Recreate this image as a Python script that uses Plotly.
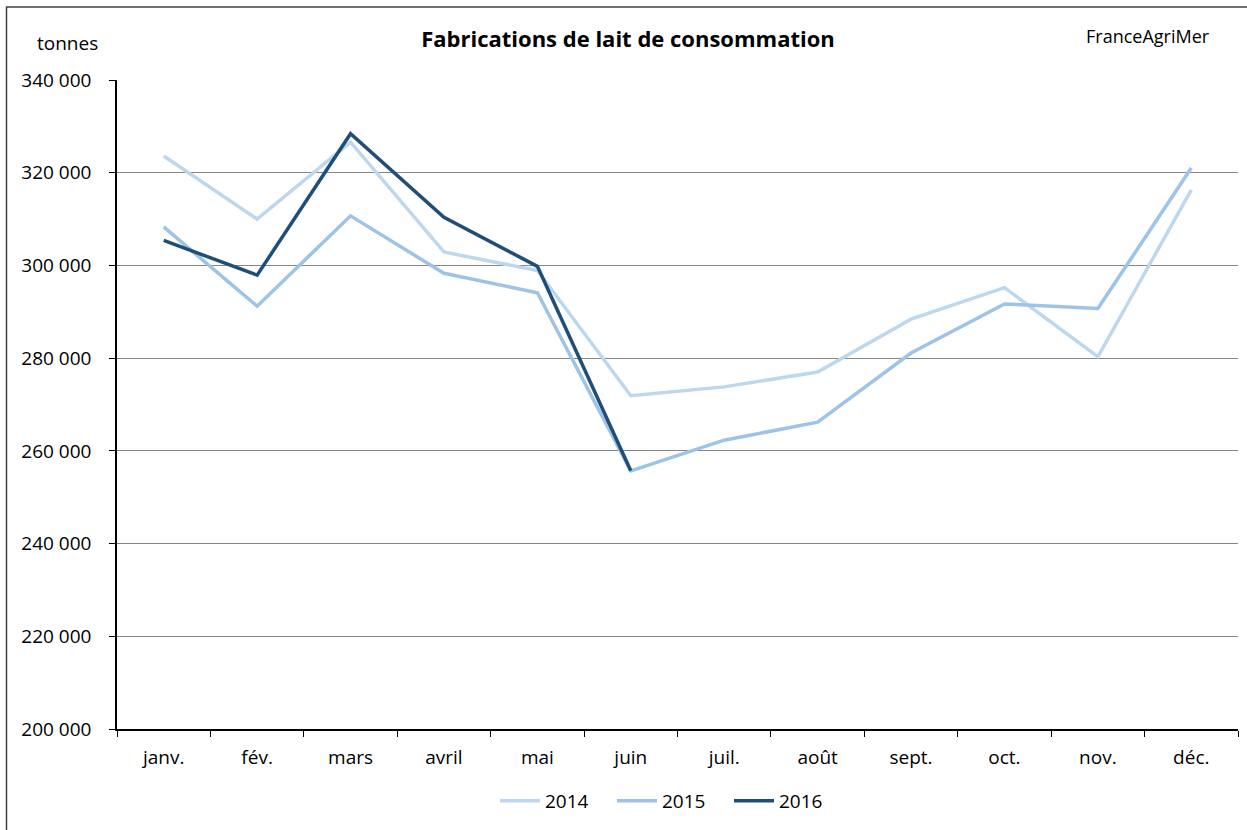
import plotly.graph_objects as go

months = ["janv.", "fév.", "mars", "avril", "mai", "juin", "juil.", "août", "sept.", "oct.", "nov.", "déc."]
y2014 = [323600, 310000, 326600, 302900, 298900, 271900, 273800, 277000, 288400, 295200, 280300, 316300]
y2015 = [308300, 291200, 310700, 298300, 294100, 255700, 262300, 266200, 281100, 291700, 290700, 321000]
y2016 = [305400, 297900, 328400, 310400, 299800, 255700]

series = [("2014", y2014, "#BDD7EE"), ("2015", y2015, "#9DC3E6"), ("2016", y2016, "#1F4E79")]

FONT = "Open Sans"
fig = go.Figure()
for name, vals, col in series:
    fig.add_trace(go.Scatter(x=months[:len(vals)], y=vals, name=name, mode="lines",
                             line=dict(color=col, width=3.5)))

fig.update_layout(
    width=1247, height=830,
    margin=dict(l=117, r=9, t=80, b=101, autoexpand=False),
    paper_bgcolor="white", plot_bgcolor="white",
    separators=", ",
    font=dict(family=FONT, size=19, color="black"),
    showlegend=True,
    legend=dict(orientation="h", x=(495-117)/1121, xanchor="left", y=-(801-729)/649, yanchor="middle",
                font=dict(size=19), itemwidth=40, traceorder="normal",
                entrywidth=62, entrywidthmode="pixels"),
    title=dict(text="<b>Fabrications de lait de consommation</b>", x=628/1247, xanchor="center",
               y=1-39/830, yanchor="middle", font=dict(size=22, family=FONT)),
)
fig.update_xaxes(type="category", range=[-0.5, 11.5], showline=True, linecolor="black", linewidth=1.5,
                 ticks="outside", tickson="boundaries", ticklen=6, tickcolor="black",
                 showgrid=False, tickfont=dict(size=19), ticklabelstandoff=10)
fig.update_yaxes(range=[200000, 340000], dtick=20000, tickformat=",d", showline=True,
                 linecolor="black", linewidth=1.5, ticks="outside", ticklen=6, tickcolor="black",
                 showgrid=True, gridcolor="#868686", gridwidth=1, zeroline=False,
                 tickfont=dict(size=19), ticklabelstandoff=14)

fig.add_annotation(text="tonnes", xref="paper", yref="paper", x=(67-117)/1121, y=1+(80-43)/649,
                   showarrow=False, xanchor="center", yanchor="middle", font=dict(size=19))
fig.add_annotation(text="FranceAgriMer", xref="paper", yref="paper", x=(1148-117)/1121, y=1+(80-36)/649,
                   showarrow=False, xanchor="center", yanchor="middle", font=dict(size=18))
fig.add_shape(type="rect", xref="paper", yref="paper",
              x0=(6.5-117)/1121, x1=(1260-117)/1121, y0=-(850-729)/649, y1=1+(80-7)/649,
              line=dict(color="#404040", width=1.5), fillcolor="rgba(0,0,0,0)", layer="below")

fig.write_html("out.html", config={"displayModeBar": False},
               post_script="document.body.style.margin='0';")
